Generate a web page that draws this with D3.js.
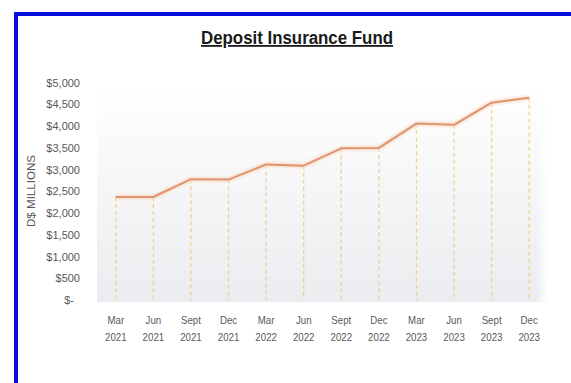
<!DOCTYPE html>
<html>
<head>
<meta charset="utf-8">
<script src="https://cdn.jsdelivr.net/npm/d3@7"></script>
<style>
  html, body { margin: 0; padding: 0; background: #fff; }
  svg { display: block; }
</style>
</head>
<body>
<svg id="chart" width="571" height="383"></svg>
<script>
// Quarter labels (month / year) and fund balance in $ millions
const months = ["Mar", "Jun", "Sept", "Dec", "Mar", "Jun", "Sept", "Dec", "Mar", "Jun", "Sept", "Dec"];
const years  = ["2021", "2021", "2021", "2021", "2022", "2022", "2022", "2022", "2023", "2023", "2023", "2023"];
const fundValues = [2370, 2370, 2780, 2770, 3120, 3090, 3490, 3500, 4060, 4030, 4540, 4655];
const yTicks = [0, 500, 1000, 1500, 2000, 2500, 3000, 3500, 4000, 4500, 5000];

const keys = months.map((m, i) => m + " " + years[i]);
const data = keys.map((k, i) => ({ key: k, month: months[i], year: years[i], value: fundValues[i] }));

const FONT = "'Liberation Sans', Arial, sans-serif";
const NARROW = "scale(0.88,1)";   // slightly condensed category labels

const svg = d3.select("#chart");
const plot = { left: 97, right: 548, top: 82.7, bottom: 300 };

// Frame: blue border on top and left
svg.append("line").attr("x1", 14).attr("x2", 571).attr("y1", 14).attr("y2", 14)
  .attr("stroke", "#0510e0").attr("stroke-width", 4);
svg.append("line").attr("x1", 16).attr("x2", 16).attr("y1", 12).attr("y2", 383)
  .attr("stroke", "#0510e0").attr("stroke-width", 4);

// Plot background gradient
const defs = svg.append("defs");
const grad = defs.append("linearGradient").attr("id", "bg").attr("x1", 0).attr("x2", 0).attr("y1", 0).attr("y2", 1);
grad.append("stop").attr("offset", "0%").attr("stop-color", "#ffffff");
grad.append("stop").attr("offset", "100%").attr("stop-color", "#ececf0");
const fadeR = defs.append("linearGradient").attr("id", "fadeR").attr("x1", 0).attr("x2", 1).attr("y1", 0).attr("y2", 0);
fadeR.append("stop").attr("offset", "0%").attr("stop-color", "#fff").attr("stop-opacity", 0);
fadeR.append("stop").attr("offset", "100%").attr("stop-color", "#fff").attr("stop-opacity", 1);

const glow = defs.append("filter").attr("id", "glow").attr("x", "-5%").attr("y", "-20%").attr("width", "110%").attr("height", "140%");
glow.append("feGaussianBlur").attr("stdDeviation", 1.2);

svg.append("rect").attr("x", plot.left).attr("y", plot.top).attr("width", plot.right - plot.left)
  .attr("height", plot.bottom - plot.top + 2).attr("fill", "url(#bg)");
svg.append("rect").attr("x", plot.right - 12).attr("y", plot.top).attr("width", 12)
  .attr("height", plot.bottom - plot.top + 2).attr("fill", "url(#fadeR)");

// Scales
const x = d3.scaleBand().domain(keys).range([plot.left, plot.right]);
const y = d3.scaleLinear().domain([0, 5000]).range([plot.bottom, plot.top]);
const cx = k => x(k) + x.bandwidth() / 2;

// Title
svg.append("text").attr("x", 297).attr("y", 44).attr("text-anchor", "middle")
  .attr("font-family", FONT).attr("font-weight", "bold").attr("font-size", 18)
  .attr("fill", "#1a1a1a").attr("text-decoration", "underline")
  .attr("textLength", 192).attr("lengthAdjust", "spacingAndGlyphs")
  .text("Deposit Insurance Fund");

// Y axis (labels only)
const yAxis = d3.axisLeft(y).tickValues(yTicks).tickSize(0).tickPadding(0)
  .tickFormat(v => v === 0 ? "$-" : "$" + d3.format(",")(v));
const yg = svg.append("g").attr("transform", "translate(80,0)").call(yAxis);
yg.select(".domain").remove();
yg.selectAll("text").attr("font-size", 11).attr("fill", "#595959")
  .attr("font-family", FONT)
  .attr("x", d => d === 0 ? -6 : 0);

// Y axis title
svg.append("text").attr("transform", "translate(35,191) rotate(-90)").attr("text-anchor", "middle")
  .attr("font-family", FONT).attr("font-size", 10).attr("fill", "#595959")
  .attr("textLength", 72).attr("lengthAdjust", "spacingAndGlyphs")
  .text("D$ MILLIONS");

// X axis: two-line labels
const xAxis = d3.axisBottom(x).tickSize(0).tickPadding(0).tickFormat(() => "");
const xg = svg.append("g").attr("transform", `translate(0,${plot.bottom})`).call(xAxis);
xg.select(".domain").remove();
xg.selectAll(".tick").each(function(k, i) {
  const t = d3.select(this).select("text")
    .attr("font-family", FONT).attr("font-size", 11).attr("fill", "#595959")
    .attr("y", 0).attr("dy", null).attr("transform", NARROW);
  t.append("tspan").attr("x", 0).attr("y", 24).text(data[i].month);
  t.append("tspan").attr("x", 0).attr("y", 41).text(data[i].year);
});

// Dashed drop lines from each point to the baseline
svg.append("g").selectAll("line").data(data).join("line")
  .attr("x1", d => cx(d.key)).attr("x2", d => cx(d.key))
  .attr("y1", d => y(d.value)).attr("y2", plot.bottom)
  .attr("stroke", "#f3cf8c").attr("stroke-width", 1.3).attr("stroke-dasharray", "4,3");

// Fund line with soft glow
const line = d3.line().x(d => cx(d.key)).y(d => y(d.value));
svg.append("path").datum(data).attr("d", line).attr("fill", "none")
  .attr("stroke", "#fbdcc6").attr("stroke-width", 5).attr("filter", "url(#glow)").attr("opacity", 0.8);
svg.append("path").datum(data).attr("d", line).attr("fill", "none")
  .attr("stroke", "#de9470").attr("stroke-width", 2).attr("stroke-linejoin", "round");
</script>
</body>
</html>
